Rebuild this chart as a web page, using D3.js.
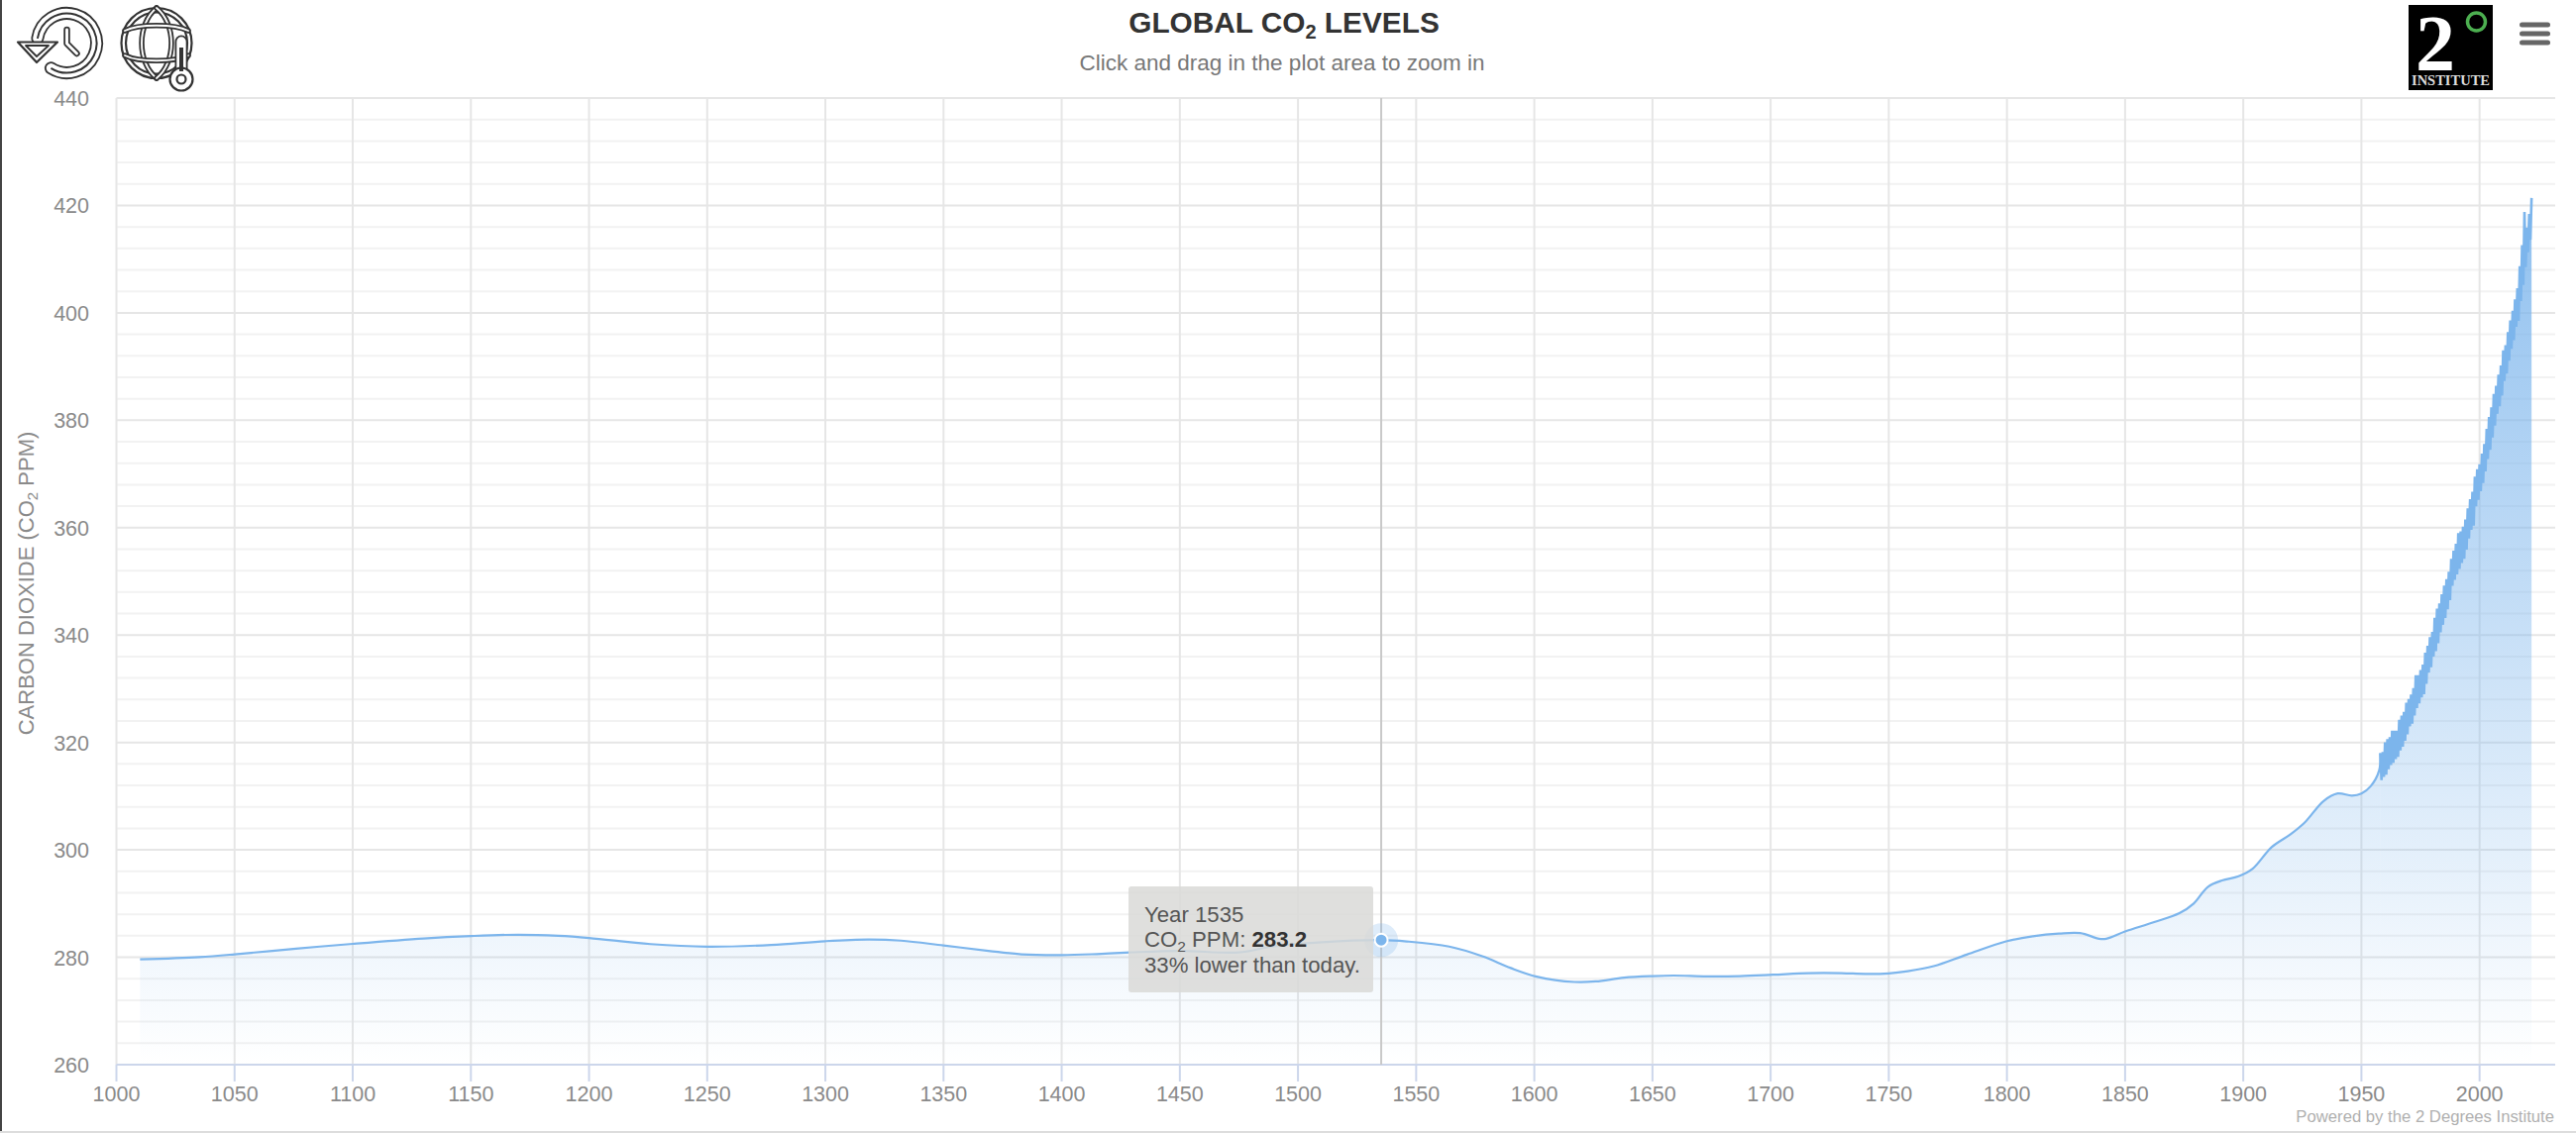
<!DOCTYPE html>
<html><head><meta charset="utf-8">
<script src="https://cdn.jsdelivr.net/npm/d3@7/dist/d3.min.js"></script>
<style>html,body{margin:0;padding:0;background:#fff}svg{display:block}text{font-family:"Liberation Sans",Arial,sans-serif}</style>
</head><body><div id="chart"></div>
<script>
const smoothYears=[1010,1035,1050,1076,1100,1130,1150,1170,1187,1200,1226,1250,1277,1300,1318,1332,1350,1369,1383,1400,1415,1429,1450,1475,1489,1510,1535,1546,1564,1578,1590,1601,1617,1626,1638,1650,1659,1673,1687,1701,1716,1730,1740,1750,1758,1769,1783,1800,1811,1822,1831,1839,1842,1850,1862,1873,1879,1885,1891,1898,1904,1912,1920,1926,1934,1940,1946,1950,1954,1957.5];
const smoothPPM=[279.6,280.05,280.55,281.6,282.5,283.5,283.95,284.2,284,283.6,282.45,281.97,282.3,283,283.3,283.1,282.2,281.2,280.55,280.4,280.6,280.9,281.2,280.9,282,282.8,283.2,282.95,282,280.2,278,276.4,275.4,275.5,276.2,276.5,276.6,276.45,276.5,276.75,277.05,277.05,276.9,277,277.4,278.35,280.5,283,283.9,284.4,284.5,283.45,283.45,284.8,286.5,288.2,290,293.1,294.3,295.07,296.5,300.5,302.9,305.1,309.1,310.5,310.1,310.5,311.9,314.8];
const seasonYears=[1958,1959,1960,1961,1962,1963,1964,1965,1966,1967,1968,1969,1970,1971,1972,1973,1974,1975,1976,1977,1978,1979,1980,1981,1982,1983,1984,1985,1986,1987,1988,1989,1990,1991,1992,1993,1994,1995,1996,1997,1998,1999,2000,2001,2002,2003,2004,2005,2006,2007,2008,2009,2010,2011,2012,2013,2014,2015,2016,2017,2018,2019,2020,2021,2022];
const seasonPeak=[318.0,318.2,320.0,320.6,321.0,322.2,322.2,322.2,324.2,325.0,325.7,327.4,328.1,328.9,330.1,332.5,332.5,333.5,334.5,336.7,338.0,339.6,340.6,343.2,344.9,345.9,347.6,349.2,350.4,351.8,354.2,355.7,357.0,359.0,359.3,360.2,361.5,363.6,365.3,366.7,369.5,370.9,371.8,373.8,375.6,378.4,380.6,382.4,384.9,386.4,388.5,390.2,393.0,394.0,396.4,398.6,400.4,402.5,404.6,408.7,412.6,418.8,415.9,418.4,421.4];
const seasonTrough=[313.0,313.6,314.0,315.0,315.8,316.2,316.9,317.3,318.5,319.2,320.3,321.5,323.0,323.5,325.0,326.4,327.3,328.4,329.0,330.9,333.0,334.0,336.0,337.0,338.5,340.5,341.9,343.2,344.8,346.5,349.2,350.3,351.3,352.3,353.4,354.2,355.9,358.0,359.6,360.4,364.0,365.2,366.8,368.3,370.5,372.8,374.5,376.8,379.0,381.2,382.6,384.6,387.3,388.7,391.1,393.3,394.9,397.4,398.5,402.2,405.2,408.5,411.3,413.6];
const xTicks=[1000,1050,1100,1150,1200,1250,1300,1350,1400,1450,1500,1550,1600,1650,1700,1750,1800,1850,1900,1950,2000];
const yMajor=[260,280,300,320,340,360,380,400,420,440];
const hoverYear=1535, hoverPPM=283.2;
const tipLines=["Year 1535","lower than today."];

const W=2600,H=1144;
const svg=d3.select("#chart").append("svg").attr("width",W).attr("height",H).attr("viewBox",[0,0,W,H]);
const x=d3.scaleLinear().domain([1000,2032]).range([117.5,2579]);
const y=d3.scaleLinear().domain([260,440]).range([1075,99]);
const smooth=smoothYears.map((d,i)=>[d,smoothPPM[i]]);
const zig=[];
seasonYears.forEach((yr,i)=>{zig.push([yr,seasonPeak[i]]);if(i<seasonTrough.length)zig.push([yr+0.5,seasonTrough[i]]);});

// background chrome
svg.append("rect").attr("x",0).attr("y",0).attr("width",2).attr("height",H).attr("fill","#444");
svg.append("rect").attr("x",0).attr("y",1142).attr("width",W).attr("height",2).attr("fill","#ddd");

// grid
const minor=d3.range(260,441,4).filter(v=>v%20!==0);
svg.append("g").selectAll("line").data(minor).join("line").attr("x1",x.range()[0]).attr("x2",x.range()[1]).attr("y1",d=>y(d)).attr("y2",d=>y(d)).attr("stroke","#f2f2f2").attr("stroke-width",2);
svg.append("g").selectAll("line").data(yMajor).join("line").attr("x1",x.range()[0]).attr("x2",x.range()[1]).attr("y1",d=>y(d)).attr("y2",d=>y(d)).attr("stroke","#e6e6e6").attr("stroke-width",2);
svg.append("g").selectAll("line").data(xTicks).join("line").attr("x1",d=>x(d)).attr("x2",d=>x(d)).attr("y1",99).attr("y2",1075).attr("stroke","#e6e6e6").attr("stroke-width",2);

// gradient
const defs=svg.append("defs");
const g=defs.append("linearGradient").attr("id","fillGrad").attr("gradientUnits","userSpaceOnUse").attr("x1",0).attr("x2",0).attr("y1",y(421.4)).attr("y2",y(260));
g.append("stop").attr("offset",0).attr("stop-color","#7cb5ec").attr("stop-opacity",0.85);
g.append("stop").attr("offset",1).attr("stop-color","#7cb5ec").attr("stop-opacity",0);

const smoothCurve=d3.curveCatmullRom.alpha(0.5);
const area=d3.area().x(d=>x(d[0])).y0(y(260)).y1(d=>y(d[1]));
const line=d3.line().x(d=>x(d[0])).y(d=>y(d[1]));
const smoothAll=smooth.concat([zig[0]]);
svg.append("path").attr("d",d3.area().x(d=>x(d[0])).y0(y(260)).y1(d=>y(d[1])).curve(smoothCurve)(smoothAll)).attr("fill","url(#fillGrad)");
svg.append("path").attr("d",area.curve(d3.curveLinear)(zig)).attr("fill","url(#fillGrad)");
svg.append("path").attr("d",d3.line().x(d=>x(d[0])).y(d=>y(d[1])).curve(smoothCurve)(smoothAll)).attr("fill","none").attr("stroke","#7cb5ec").attr("stroke-width",2.2);
svg.append("path").attr("d",line(zig)).attr("fill","none").attr("stroke","#7cb5ec").attr("stroke-width",2.6);

// axes lines + ticks
svg.append("line").attr("x1",x.range()[0]).attr("x2",x.range()[1]).attr("y1",1075).attr("y2",1075).attr("stroke","#ccd6eb").attr("stroke-width",2);
svg.append("g").selectAll("line").data(xTicks).join("line").attr("x1",d=>x(d)).attr("x2",d=>x(d)).attr("y1",1075).attr("y2",1092).attr("stroke","#ccd6eb").attr("stroke-width",2);
const tickColor="#8a8a8a";
svg.append("g").selectAll("text").data(xTicks).join("text").attr("x",d=>x(d)).attr("y",1111.5).attr("text-anchor","middle").attr("font-size",21.5).attr("fill",tickColor).text(d=>d);
svg.append("g").selectAll("text").data(yMajor).join("text").attr("x",90).attr("y",d=>y(d)+8).attr("text-anchor","end").attr("font-size",21.5).attr("fill",tickColor).text(d=>d);

// y title
const yt=svg.append("text").attr("transform","translate(34,589) rotate(-90)").attr("text-anchor","middle").attr("font-size",22).attr("fill","#8a8a8a");
yt.append("tspan").text("CARBON DIOXIDE (CO");
yt.append("tspan").attr("font-size",15).attr("dy",4).text("2");
yt.append("tspan").attr("dy",-4).text(" PPM)");

// title
const tt=svg.append("text").attr("x",1296).attr("y",33).attr("text-anchor","middle").attr("font-size",29.8).attr("font-weight","bold").attr("fill","#333");
tt.append("tspan").text("GLOBAL CO");
tt.append("tspan").attr("font-size",20).attr("dy",6).text("2");
tt.append("tspan").attr("dy",-6).text(" LEVELS");
svg.append("text").attr("x",1294).attr("y",71).attr("text-anchor","middle").attr("font-size",22.5).attr("fill","#777").text("Click and drag in the plot area to zoom in");
svg.append("text").attr("x",2578).attr("y",1133).attr("text-anchor","end").attr("font-size",16.7).attr("fill","#b0b0b0").text("Powered by the 2 Degrees Institute");

// crosshair + marker
const hx=x(hoverYear)+0.5,hy=y(hoverPPM);
svg.append("line").attr("x1",hx).attr("x2",hx).attr("y1",99).attr("y2",1075).attr("stroke","#c9c9c9").attr("stroke-width",2);
svg.append("circle").attr("cx",hx).attr("cy",hy).attr("r",17).attr("fill","#7cb5ec").attr("fill-opacity",0.25);
svg.append("circle").attr("cx",hx).attr("cy",hy).attr("r",6.5).attr("fill","#7cb5ec").attr("stroke","#fff").attr("stroke-width",2);

// tooltip
svg.append("rect").attr("x",1139).attr("y",895).attr("width",247).attr("height",107).attr("rx",3).attr("fill","#d9d9d7").attr("fill-opacity",0.85);
const tf=22.2;
svg.append("text").attr("x",1155).attr("y",931).attr("font-size",tf).attr("fill","#555").text(tipLines[0]);
const t2=svg.append("text").attr("x",1155).attr("y",956).attr("font-size",tf).attr("fill","#555");
t2.append("tspan").text("CO");t2.append("tspan").attr("font-size",15.5).attr("dy",5).text("2");
t2.append("tspan").attr("dy",-5).text(" PPM: ");
t2.append("tspan").attr("font-weight","bold").attr("fill","#333").text(hoverPPM);
svg.append("text").attr("x",1155).attr("y",982).attr("font-size",tf).attr("fill","#555").text("33% "+tipLines[1]);

// hamburger
svg.append("g").selectAll("rect").data([25,34,43]).join("rect").attr("x",2543).attr("y",d=>d-2.5).attr("width",31).attr("height",5).attr("rx",2.5).attr("fill","#666");

// logo
const lg=svg.append("g");
lg.append("rect").attr("x",2431).attr("y",5).attr("width",85).attr("height",86).attr("fill","#000");
lg.append("text").attr("x",2458).attr("y",71).attr("text-anchor","middle").attr("font-size",80).attr("font-weight","bold").attr("fill","#fff").style("font-family","'Liberation Serif',serif").text("2");
lg.append("circle").attr("cx",2499.5).attr("cy",22).attr("r",9).attr("fill","none").attr("stroke","#4caf50").attr("stroke-width",3.5);
lg.append("text").attr("x",2473.5).attr("y",85.5).attr("text-anchor","middle").attr("font-size",14.5).attr("font-weight","bold").attr("fill","#ddd").style("font-family","'Liberation Serif',serif").text("INSTITUTE");

// icons, drawn as layered strokes to give the outlined look
function triple(sel,d,w){
  sel.append("path").attr("d",d).attr("fill","none").attr("stroke","#333").attr("stroke-width",w).attr("stroke-linecap","round").attr("stroke-linejoin","round");
  sel.append("path").attr("d",d).attr("fill","none").attr("stroke","#fff").attr("stroke-width",w-3.6).attr("stroke-linecap","round").attr("stroke-linejoin","round");
}
const ic=svg.append("g");
const ring=d3.path();ring.arc(67.5,43.5,30,Math.PI*0.68,Math.PI*1.05,true);
triple(ic,ring.toString(),13);
ic.append("path").attr("d",ring.toString()).attr("fill","none").attr("stroke","#333").attr("stroke-width",2);
ic.append("path").attr("d","M18,42.5H58L37,63Z").attr("fill","#fff").attr("stroke","#333").attr("stroke-width",2.2).attr("stroke-linejoin","round");
ic.append("path").attr("d","M26,46H49L37,57Z").attr("fill","#fff").attr("stroke","#333").attr("stroke-width",1.8).attr("stroke-linejoin","round");
triple(ic,"M67.5,30V44L77.5,54",6.5);

const gl=svg.append("g");
gl.append("circle").attr("cx",158).attr("cy",43.5).attr("r",35.5).attr("fill","#fff").attr("stroke","#333").attr("stroke-width",2.2);
gl.append("circle").attr("cx",158).attr("cy",43.5).attr("r",31).attr("fill","none").attr("stroke","#333").attr("stroke-width",2.2);
["M158,8C138,24,138,63,158,79","M158,8C178,24,178,63,158,79","M126,31C140,24,176,24,190,31","M126,56C140,63,176,63,190,56"].forEach(p=>triple(gl,p,5.5));
triple(gl,"M183,42V76",13);
gl.append("circle").attr("cx",183).attr("cy",80).attr("r",11.5).attr("fill","#fff").attr("stroke","#333").attr("stroke-width",2.2);
gl.append("circle").attr("cx",183).attr("cy",80).attr("r",4.5).attr("fill","#fff").attr("stroke","#333").attr("stroke-width",2.2);
gl.append("path").attr("d","M183,48V72").attr("stroke","#333").attr("stroke-width",4);
</script></body></html>
